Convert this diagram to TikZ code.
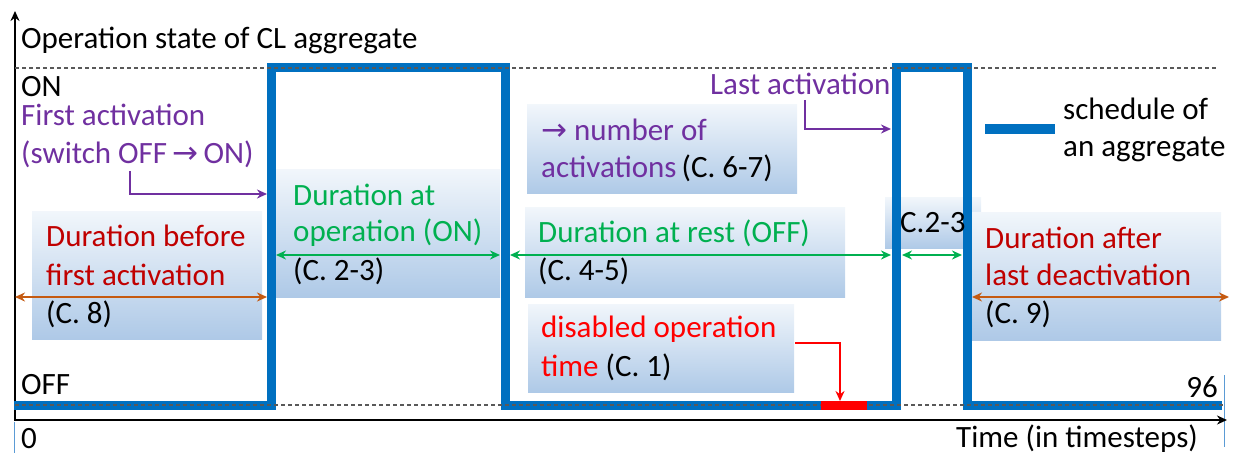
\documentclass[tikz,border=0pt]{standalone}
\usepackage{fontspec}
\setmainfont{Carlito}
\newfontfamily\symf{DejaVu Sans}
\usetikzlibrary{arrows.meta}
\definecolor{sched}{HTML}{0070C0}
\definecolor{ppl}{HTML}{7030A0}
\definecolor{grn}{HTML}{00B050}
\definecolor{dred}{HTML}{C00000}
\definecolor{bred}{HTML}{FF0000}
\definecolor{org}{HTML}{C55A11}
\definecolor{boxtop}{HTML}{F1F6FB}
\definecolor{boxbot}{HTML}{AEC9E7}
\definecolor{tickblue}{HTML}{5B9BD5}
\newcommand{\rarr}{{\symf\fontsize{31}{31}\selectfont →}}
\begin{document}
\begin{tikzpicture}[x=1pt,y=-1pt,
  font=\fontsize{31}{37}\selectfont,
  txt/.style={inner sep=0pt,anchor=base west},
  lbox/.style={top color=boxtop,bottom color=boxbot,draw=none},
  tipS/.tip={Stealth[length=10pt,width=9pt]},
  dur/.style={line width=2.3pt,tipS-tipS},
  callout/.style={line width=2pt,-tipS},
  levelline/.style={draw=black!65,line width=1.2pt,dash pattern=on 4pt off 3pt},
  axis/.style={line width=1.8pt,-{Stealth[length=10pt,width=9pt]}},
  schedline/.style={draw=sched,line width=9pt,line join=miter}]
\useasboundingbox (0,0) rectangle (1244,454);

% background boxes
\path[lbox] (32,212) rectangle (262,339);
\path[lbox] (275,170) rectangle (500,297);
\path[lbox] (527,105) rectangle (797,194);
\path[lbox] (525,208) rectangle (845,297);
\path[lbox] (528,304) rectangle (794,392);
\path[lbox] (885,198) rectangle (981,249);
\path[lbox] (972,213) rectangle (1221,340);

% tick marks
\draw[tickblue,line width=1pt] (14,422) -- (14,453);
\draw[tickblue,line width=1pt] (1224,375) -- (1224,447);

% axes
\coordinate (o) at (15,421);
\coordinate (ytop) at (15,11);
\coordinate (xend) at (1227,420);
\draw[axis] (o) -- (ytop);
\draw[axis] (15,420) -- (xend);

% schedule
\coordinate (s0) at (14,405);
\coordinate (s1) at (271,405);
\coordinate (s2) at (271,68);
\coordinate (s3) at (505,68);
\coordinate (s4) at (505,405);
\coordinate (s5) at (896,405);
\coordinate (s6) at (896,68);
\coordinate (s7) at (967,68);
\coordinate (s8) at (967,405);
\coordinate (s9) at (1222,405);
\draw[schedline] (s0) -- (s1) -- (s2) -- (s3) -- (s4) -- (s5) -- (s6) -- (s7) -- (s8) -- (s9);

% level lines
\draw[levelline] (15,68) -- (1217,68);
\draw[levelline] (15,405) -- (1225,405);

% disabled time segment
\coordinate (r0) at (821,405);
\coordinate (r1) at (867,405);
\draw[bred,line width=9pt] (r0) -- (r1);

% legend
\coordinate (lg0) at (985,129);
\coordinate (lg1) at (1055,129);
\draw[sched,line width=10pt] (lg0) -- (lg1);

% texts
\node[txt] (title) at (21,49) {Operation state of CL aggregate};
\node[txt] (on) at (21,97) {ON};
\node[txt,text=ppl] (fa1) at (21,126) {First activation};
\node[txt,text=ppl] (fa2) at (21,164) {(switch OFF\,\rarr\,ON)};
\node[txt,text=ppl] (la) at (710,95) {Last activation};
\node[txt] (leg1) at (1063,120) {schedule of};
\node[txt] (leg2) at (1063,157) {an aggregate};
\node[txt,text=grn] (don1) at (293,206) {Duration at};
\node[txt,text=grn] (don2) at (293,242) {operation (ON)};
\node[txt] (don3) at (293,280) {(C. 2-3)};
\node[txt,text=dred] (dbf1) at (46,247) {Duration before};
\node[txt,text=dred] (dbf2) at (46,285) {first activation};
\node[txt] (dbf3) at (46,323) {(C. 8)};
\node[txt,text=ppl] (na1) at (541,141) {\rarr\ number of};
\node[txt] (na2) at (541,178) {\textcolor{ppl}{activations}\,(C. 6-7)};
\node[txt,text=grn] (dr1) at (538,243) {Duration at rest (OFF)};
\node[txt] (dr2) at (538,280) {(C. 4-5)};
\node[txt,text=bred] (dis1) at (541,337) {disabled operation};
\node[txt] (dis2) at (541,376) {\textcolor{bred}{time} (C. 1)};
\node[txt] (c23) at (900,233) {C.2-3};
\node[txt,text=dred] (da1) at (985,248) {Duration after};
\node[txt,text=dred] (da2) at (985,285) {last deactivation};
\node[txt] (da3) at (985,323) {(C. 9)};
\node[txt] (off) at (21,394) {OFF};
\node[txt] (zero) at (21,448) {0};
\node[inner sep=0pt,anchor=base east] (n96) at (1218,397) {96};
\node[inner sep=0pt,anchor=base east] (time) at (1198,447) {Time (in timesteps)};

% callout arrows
\coordinate (p1a) at (130,171);
\coordinate (p1b) at (267,194);
\draw[ppl,callout] (p1a) |- (p1b);
\coordinate (p2a) at (805,100);
\coordinate (p2b) at (891,129);
\draw[ppl,callout] (p2a) |- (p2b);
\coordinate (rda) at (795,343);
\coordinate (rdb) at (840,401);
\draw[bred,callout] (rda) -| (rdb);

% duration arrows
\coordinate (g1a) at (276,255);
\coordinate (g1b) at (500,255);
\coordinate (g2a) at (510,255);
\coordinate (g2b) at (891,255);
\coordinate (g3a) at (902,255);
\coordinate (g3b) at (962,255);
\draw[grn,dur] (g1a) -- (g1b);
\draw[grn,dur] (g2a) -- (g2b);
\draw[grn,dur] (g3a) -- (g3b);
\coordinate (o1a) at (15,297);
\coordinate (o1b) at (267,297);
\coordinate (o2a) at (972,297);
\coordinate (o2b) at (1229,297);
\draw[org,dur] (o1a) -- (o1b);
\draw[org,dur] (o2a) -- (o2b);
\end{tikzpicture}
\end{document}
